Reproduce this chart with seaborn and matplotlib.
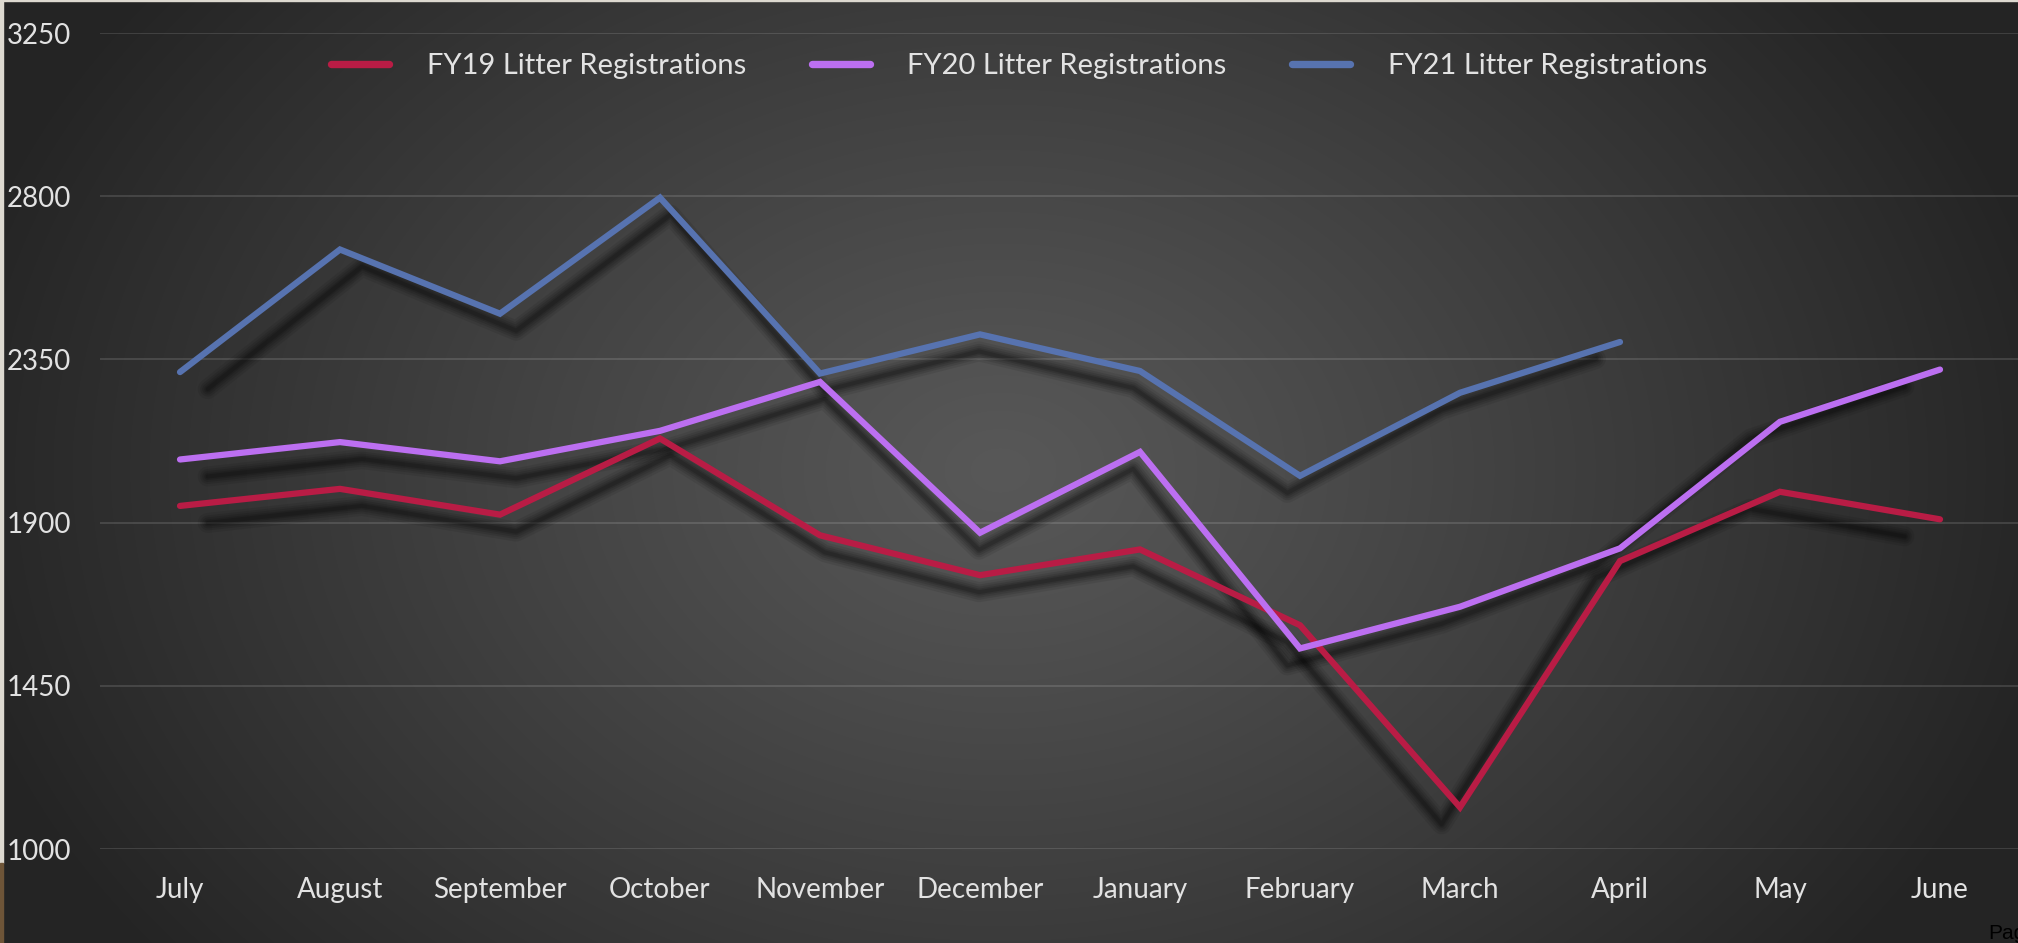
import numpy as np
import pandas as pd
import matplotlib
matplotlib.use("Agg")
import matplotlib.pyplot as plt
import matplotlib.transforms as mtransforms
from matplotlib.patches import Rectangle
import seaborn as sns

# ---- data -------------------------------------------------------------
months = ["July", "August", "September", "October", "November", "December",
          "January", "February", "March", "April", "May", "June"]
fy19 = [1946, 1993, 1922, 2132, 1865, 1755, 1826, 1617, 1115, 1794, 1985, 1909]
fy20 = [2074, 2122, 2069, 2153, 2288, 1872, 2095, 1553, 1668, 1829, 2178, 2322]
fy21 = [2315, 2653, 2476, 2796, 2311, 2419, 2318, 2029, 2258, 2398, np.nan, np.nan]
series_names = ["FY19 Litter Registrations", "FY20 Litter Registrations",
                "FY21 Litter Registrations"]
series_colors = ["#B91C45", "#BC6FF1", "#5773B0"]
y_ticks = [1000, 1450, 1900, 2350, 2800, 3250]

# ---- style ------------------------------------------------------------
sns.set_theme(style="dark")
plt.rcParams["font.family"] = ["Lato", "DejaVu Sans"]
text_color = "#E2E2E2"

W, H, DPI = 2018, 943, 100
fig = plt.figure(figsize=(W / DPI, H / DPI), dpi=DPI)

# radial dark-grey backdrop
bg = fig.add_axes([0, 0, 1, 1], zorder=-10)
yy, xx = np.mgrid[0:H, 0:W]
r = np.sqrt(((xx - 1000) / 1080.0) ** 2 + ((yy - 470) / 800.0) ** 2)
r = np.clip(r, 0, 1)
lum = (88 - (88 - 36) * r ** 1.1) / 255.0
bg.imshow(np.dstack([lum, lum, lum]), aspect="auto", interpolation="bilinear")
bg.set_axis_off()

# thin page edge on the left / top
fig.patches.append(Rectangle((0, 80 / H), 3 / W, 1, transform=fig.transFigure,
                             color="#DDD9D0", zorder=5))
fig.patches.append(Rectangle((0, 0), 3 / W, 80 / H, transform=fig.transFigure,
                             color="#6E5538", zorder=5))
fig.patches.append(Rectangle((0, 1 - 1 / H), 1, 1 / H, transform=fig.transFigure,
                             color="#DDD9D0", zorder=5))

ax = fig.add_axes([100 / W, 94 / H, 1920 / W, 816 / H])
ax.patch.set_alpha(0)
for s in ax.spines.values():
    s.set_visible(False)

x = np.arange(len(months))

# soft drop shadow: slightly shrunk horizontally, shifted down
shadow_tf = ax.transData + mtransforms.Affine2D().translate(-950, 0) \
    .scale(0.964, 1.0).translate(950, -17)
shadow_layers = [(20, 0.08), (15, 0.10), (11, 0.11), (7, 0.13), (4, 0.15)]

for name, vals, col in zip(series_names, [fy19, fy20, fy21], series_colors):
    df = pd.DataFrame({"month": x, "value": vals}).dropna()
    for lw_px, a in shadow_layers:
        ax.plot(df["month"], df["value"], color="black", alpha=a,
                lw=lw_px * 0.72, transform=shadow_tf,
                solid_capstyle="round", solid_joinstyle="round", zorder=2)
    sns.lineplot(data=df, x="month", y="value", ax=ax, color=col, lw=4.5,
                 label=name, sort=False, zorder=3,
                 solid_capstyle="round", solid_joinstyle="miter")

ax.set_xlim(-0.5, 11.5)
ax.set_ylim(1000, 3250)
ax.set_xticks(x, months)
ax.set_yticks(y_ticks, [str(v) for v in y_ticks])
ax.set_xlabel("")
ax.set_ylabel("")
ax.tick_params(axis="both", length=0, labelsize=20, colors=text_color)
ax.tick_params(axis="y", pad=21)
ax.tick_params(axis="x", pad=20)
ax.yaxis.grid(True, color="white", alpha=0.13, lw=1.4)
ax.xaxis.grid(False)
ax.set_axisbelow(True)

handles, labels = ax.get_legend_handles_labels()
ax.get_legend().remove()
leg = fig.legend(handles, labels, loc="center", ncol=3, frameon=False,
                 bbox_to_anchor=(1019 / W, 1 - 66 / H), fontsize=21,
                 handlelength=2.0, handletextpad=1.28, columnspacing=2.25,
                 labelcolor=text_color)
for h in leg.legend_handles:
    h.set_linewidth(5.3)
    h.set_solid_capstyle("round")

fig.text(1988 / W, 1 - 924 / H, "Page", color="black", fontsize=15,
         family=["Liberation Sans", "DejaVu Sans"], va="top", ha="left")

fig.savefig("out.png", dpi=DPI)
